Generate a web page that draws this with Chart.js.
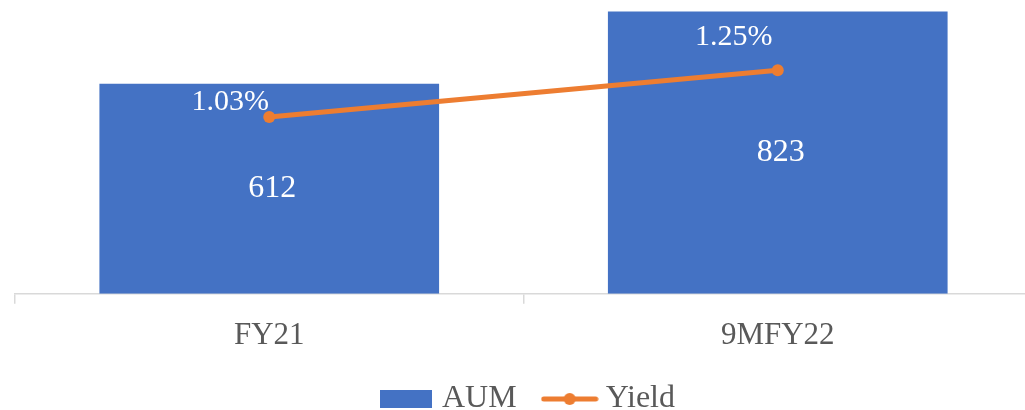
<!DOCTYPE html>
<html>
<head>
<meta charset="utf-8">
<script src="https://cdn.jsdelivr.net/npm/chart.js@4/dist/chart.umd.min.js"></script>
<style>
  html, body { margin: 0; padding: 0; background: #fff; overflow: hidden; }
  #wrap { position: absolute; left: 0; top: -15px; width: 1040px; height: 440px; }
</style>
</head>
<body>
<div id="wrap"><canvas id="chart" width="1040" height="440"></canvas></div>
<script>
const periods = ['FY21', '9MFY22'];
const aum = [612, 823];
const yieldPct = [1.03, 1.25];

const BLUE = '#4472C4';
const ORANGE = '#ED7D31';
const FONT = "'Liberation Serif', 'Times New Roman', serif";

// legend icons: filled box for AUM, line with a dot for Yield
function boxIcon() {
  const c = document.createElement('canvas');
  c.width = 52; c.height = 18;
  const g = c.getContext('2d');
  g.fillStyle = BLUE;
  g.fillRect(0, 0, 52, 18);
  return c;
}
function lineIcon() {
  const c = document.createElement('canvas');
  c.width = 58; c.height = 14;
  const g = c.getContext('2d');
  g.strokeStyle = ORANGE;
  g.lineWidth = 5;
  g.lineCap = 'round';
  g.beginPath(); g.moveTo(3, 7); g.lineTo(55, 7); g.stroke();
  g.fillStyle = ORANGE;
  g.beginPath(); g.arc(29, 7, 6, 0, Math.PI * 2); g.fill();
  return c;
}
const icons = [boxIcon(), lineIcon()];

// value labels drawn on top of the marks
const valueLabels = {
  id: 'valueLabels',
  afterDatasetsDraw(chart, args, opts) {
    const ctx = chart.ctx;
    ctx.save();
    ctx.fillStyle = '#fff';
    ctx.textAlign = 'center';
    ctx.textBaseline = 'middle';
    chart.data.datasets.forEach((ds, i) => {
      const meta = chart.getDatasetMeta(i);
      meta.data.forEach((el, j) => {
        const v = ds.data[j];
        if (ds.type === 'line') {
          const off = opts.lineOffsets[j];
          ctx.font = '30px ' + FONT;
          ctx.fillText(v.toFixed(2) + '%', el.x + off[0], el.y + off[1]);
        } else {
          ctx.font = '32px ' + FONT;
          ctx.fillText(String(v), el.x + 3, (el.y + el.base) / 2);
        }
      });
    });
    ctx.restore();
  }
};

// nudge the legend a little to the right
const legendShift = {
  id: 'legendShift',
  afterLayout(chart) {
    chart.legend.left += 7;
    chart.legend.right += 7;
  }
};

new Chart(document.getElementById('chart'), {
  data: {
    labels: periods,
    datasets: [
      {
        type: 'line',
        label: 'Yield',
        data: yieldPct,
        yAxisID: 'y2',
        borderColor: ORANGE,
        backgroundColor: ORANGE,
        borderWidth: 5,
        pointRadius: 6,
        pointBackgroundColor: ORANGE,
        pointBorderWidth: 0,
        order: 0
      },
      {
        type: 'bar',
        label: 'AUM',
        data: aum,
        yAxisID: 'y',
        backgroundColor: BLUE,
        categoryPercentage: 1,
        barPercentage: 0.668,
        order: 1
      }
    ]
  },
  options: {
    responsive: false,
    animation: false,
    devicePixelRatio: 1,
    layout: { autoPadding: false, padding: { left: 15, right: 8, top: 0, bottom: 0 } },
    scales: {
      x: {
        grid: { offset: true, drawOnChartArea: false, color: '#d9d9d9', tickLength: 10, lineWidth: 1.5 },
        border: { color: '#d9d9d9', width: 1.5 },
        ticks: { color: '#595959', font: { family: FONT, size: 31 }, padding: 13 },
        afterFit(scale) { scale.height -= 17; }
      },
      y: { display: false, min: 0, max: 900 },
      y2: { display: false, position: 'right', min: 0.2, max: 1.65 }
    },
    plugins: {
      tooltip: { enabled: false },
      legend: {
        position: 'bottom',
        reverse: true,
        labels: {
          usePointStyle: true,
          pointStyleWidth: 40,
          padding: 33,
          color: '#595959',
          font: { family: FONT, size: 32 },
          generateLabels(chart) {
            const items = Chart.defaults.plugins.legend.labels.generateLabels(chart);
            return items.map(it => Object.assign(it, { pointStyle: icons[it.datasetIndex === 1 ? 0 : 1] }));
          }
        }
      },
      valueLabels: { lineOffsets: [[-39, -15], [-44, -33]] }
    }
  },
  plugins: [valueLabels, legendShift]
});
</script>
</body>
</html>
